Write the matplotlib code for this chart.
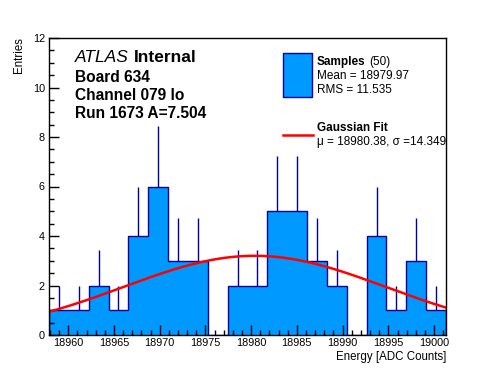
import numpy as np
import matplotlib
matplotlib.use('Agg')
import matplotlib.pyplot as plt
from matplotlib.patches import Rectangle
from matplotlib.lines import Line2D
from matplotlib.ticker import MultipleLocator

plt.rcParams['font.family'] = ['Liberation Sans', 'DejaVu Sans']

# histogram range and bin contents (20 bins)
x_min = 18957.9
x_max = 19001.3
counts = np.array([1, 1, 2, 1, 4, 6, 3, 3, 0, 2, 2, 5, 5, 3, 2, 0, 4, 1, 3, 1])

# gaussian fit parameters
fit_amp = 3.2
fit_mean = 18980.38
fit_sigma = 14.349

W, H = 496, 372
fig = plt.figure(figsize=(W / 100, H / 100), dpi=100)
ax = fig.add_axes([49 / W, 37 / H, 397 / W, 297 / H])

edges = np.linspace(x_min, x_max, len(counts) + 1)
centers = 0.5 * (edges[:-1] + edges[1:])

fill_col = '#0099ff'
line_col = '#00009a'

# filled histogram with outline
ax.stairs(counts, edges, fill=True, color=fill_col, lw=0)
ax.stairs(counts, edges, color=line_col, lw=1)

# upper error bars (lower half hidden by fill in the original)
nz = counts > 0
ax.vlines(centers[nz], counts[nz], counts[nz] + np.sqrt(counts[nz]),
          color=line_col, lw=1)

# gaussian fit
xs = np.linspace(x_min, x_max, 300)
ax.plot(xs, fit_amp * np.exp(-0.5 * ((xs - fit_mean) / fit_sigma) ** 2),
        color='red', lw=1.8)

ax.set_xlim(x_min, x_max)
ax.set_ylim(0, 12)
ax.xaxis.set_major_locator(MultipleLocator(5))
ax.xaxis.set_minor_locator(MultipleLocator(1))
ax.yaxis.set_major_locator(MultipleLocator(2))
ax.yaxis.set_minor_locator(MultipleLocator(0.5))
ax.tick_params(which='both', direction='in', top=False, right=False,
               labelsize=7.8, width=1)
ax.tick_params(which='major', length=7)
ax.tick_params(which='minor', length=3.5)
ax.tick_params(axis='x', pad=2.5)
ax.tick_params(axis='y', pad=3)
ax.ticklabel_format(useOffset=False)
for s in ax.spines.values():
    s.set_linewidth(1)


def fx(x):
    return x / W


def fy(y):
    return 1 - y / H


# axis titles
fig.text(fx(446), fy(357), 'Energy [ADC Counts]', ha='right', va='center',
         fontsize=8.3)
fig.text(fx(19), fy(37), 'Entries', ha='center', va='top', rotation=90,
         fontsize=8.3)

# labels
fig.text(fx(75), fy(57), 'ATLAS', style='italic', fontsize=12.5, va='center')
fig.text(fx(134), fy(57), 'Internal', weight='bold', fontsize=12.5, va='center')
fig.text(fx(75), fy(77), 'Board 634', weight='bold', fontsize=11.2, va='center')
fig.text(fx(75), fy(96), 'Channel 079 lo', weight='bold', fontsize=11.2, va='center')
fig.text(fx(75), fy(114), 'Run 1673 A=7.504', weight='bold', fontsize=11.2, va='center')

# legend drawn by hand
fig.patches.append(Rectangle((fx(283), fy(97)), fx(312) - fx(283), fy(53) - fy(97),
                             transform=fig.transFigure, facecolor=fill_col,
                             edgecolor=line_col, lw=1))
fig.lines.append(Line2D([fx(283), fx(313)], [fy(135), fy(135)],
                        transform=fig.transFigure, color='red', lw=1.8))
fig.text(fx(317), fy(62), 'Samples', weight='bold', fontsize=8.5, va='center')
fig.text(fx(369), fy(62), '(50)', fontsize=8.5, va='center')
fig.text(fx(317), fy(76), 'Mean = 18979.97', fontsize=8.5, va='center')
fig.text(fx(317), fy(90), 'RMS = 11.535', fontsize=8.5, va='center')
fig.text(fx(317), fy(128), 'Gaussian Fit', weight='bold', fontsize=8.5, va='center')
fig.text(fx(317), fy(142), 'μ = 18980.38, σ =14.349', fontsize=8.5, va='center')

fig.savefig('out.png', dpi=100)
